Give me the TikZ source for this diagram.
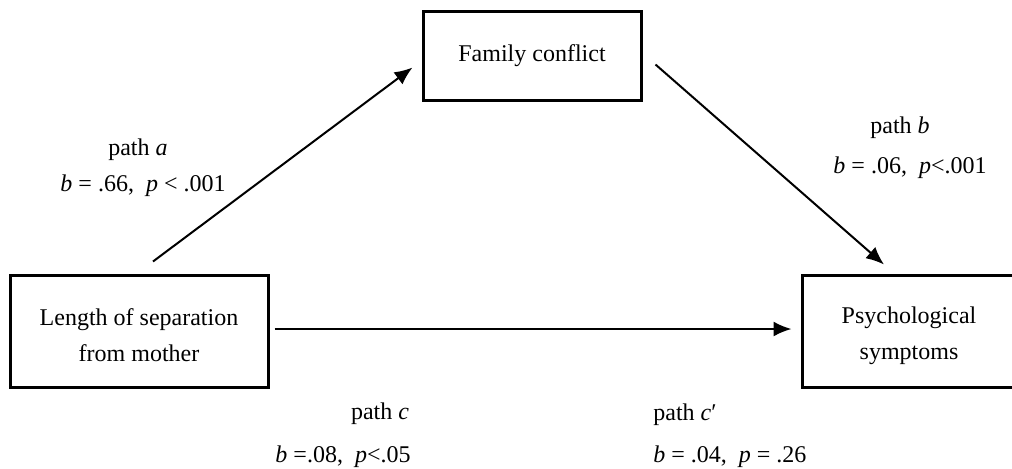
\documentclass[tikz,border=0pt]{standalone}
\usepackage{fontspec}
\setmainfont{Liberation Serif}
\usetikzlibrary{arrows.meta,calc}

\begin{document}
\begin{tikzpicture}[x=0.5pt,y=-0.5pt,font=\fontsize{12}{16}\selectfont,
  varbox/.style={draw,line width=1.5pt,align=center,inner sep=0pt},
  tallbox/.style={varbox,minimum height=56pt,font=\fontsize{12}{18}\selectfont,text height=31pt},
  pathline/.style={-{Latex[length=9pt,width=7.5pt]},line width=1pt},
  pathlbl/.style={anchor=base,inner sep=0pt}]
\useasboundingbox (0,0) rectangle (1012,468);

\node[varbox,minimum width=109pt,minimum height=44.5pt] (conflict) at (532,55.5) {Family conflict};
\node[tallbox,minimum width=129pt] (separation) at (139,331) {Length of separation\\from mother};
\node[tallbox,minimum width=107pt] (symptoms) at (909,331) {Psychological\\symptoms};

% paths a, b, c
\draw[pathline] ($(separation.north)+(14,-12)$) -- ($(conflict.west)+(-9,12)$);
\draw[pathline] ($(conflict.east)+(13,9)$) -- ($(symptoms.north)+(-25,-9)$);
\draw[pathline] ($(separation.east)+(5,-2)$) -- ($(symptoms.west)+(-9,-2)$);

\node[pathlbl] (aName) at (138,155) {path \textit{a}};
\node[pathlbl] (aStat) at (143,191) {\textit{b} = .66,\ \ \textit{p} < .001};
\node[pathlbl] (bName) at (900,133) {path \textit{b}};
\node[pathlbl] (bStat) at (910,173) {\textit{b} = .06,\ \ \textit{p}<.001};
\node[pathlbl] (cName) at (380,419) {path \textit{c}};
\node[pathlbl] (cStat) at (343,462) {\textit{b} =.08,\ \ \textit{p}<.05};
\node[pathlbl,anchor=base west] (cpName) at (653,420) {path \textit{c}′};
\node[pathlbl,anchor=base west] (cpStat) at (653,462) {\textit{b} = .04,\ \ \textit{p} = .26};
\end{tikzpicture}
\end{document}
